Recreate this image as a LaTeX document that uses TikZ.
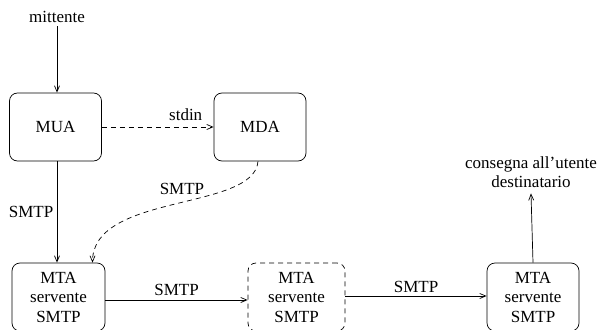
\documentclass[tikz,border=0pt]{standalone}
\usepackage{fontspec}
\setmainfont{Liberation Serif}
\usetikzlibrary{arrows.meta}
\tikzset{
  agente/.style={draw,rounded corners=8pt,minimum width=92pt,minimum height=68pt,align=center,inner sep=0pt},
  freccia/.style={-{Straight Barb[length=6pt,width=5pt]}},
  tratteggio/.style={dash pattern=on 5pt off 4pt},
}
\begin{document}
\begin{tikzpicture}[x=1pt,y=-1pt,line width=0.7pt,font=\fontsize{17}{19.5}\selectfont]
\clip (0,0) rectangle (607,329);
\node (mittente) at (57,17) {mittente};
\node[agente] (MUA) at (55.5,127) {MUA};
\node[agente] (MDA) at (260,127) {MDA};
\node[agente,minimum width=93pt] (MTA1) at (58.5,297) {MTA\\servente\\SMTP};
\node[agente,tratteggio,minimum width=97pt] (MTA2) at (296.5,297) {MTA\\servente\\SMTP};
\node[agente] (MTA3) at (533,297) {MTA\\servente\\SMTP};
\node[align=center] (consegna) at (531,172) {consegna all'utente\\destinatario};
\draw[freccia] (mittente) -- (mittente |- MUA.north);
\draw[freccia,tratteggio] (MUA) -- (MDA) node[above,pos=0.75,yshift=3pt]{stdin};
\draw[freccia] (mittente |- MUA.south) -- (mittente |- MTA1.north) node[left,midway]{SMTP};
\draw[freccia,tratteggio] ([xshift=-2pt]MDA.south) .. controls +(-4,50) and +(0,-70) .. ([xshift=34pt]MTA1.north) node[pos=0.45,above,xshift=-4pt,yshift=3pt]{SMTP};
\draw[freccia] ([yshift=-3pt]MTA1.east) -- ([yshift=-3pt]MTA2.west) node[above,midway,yshift=1pt]{SMTP};
\draw[freccia] ([yshift=1pt]MTA2.east) -- ([yshift=1pt]MTA3.west) node[above,midway]{SMTP};
\draw[freccia] (MTA3.north) -- ([yshift=-2pt]consegna.south);
\end{tikzpicture}
\end{document}
